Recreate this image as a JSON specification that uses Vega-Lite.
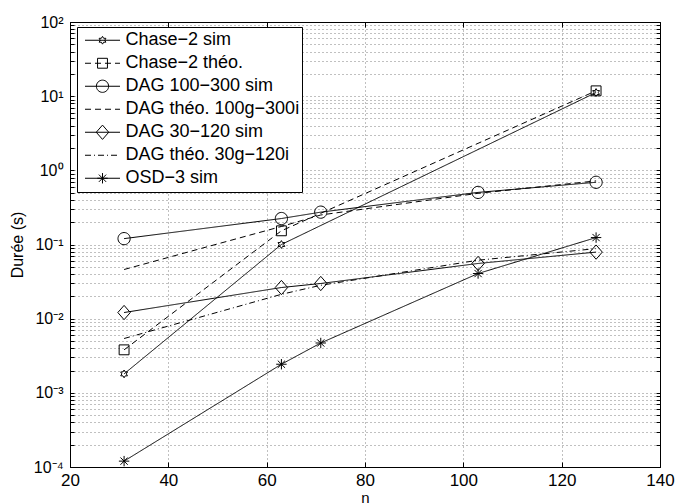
{
  "$schema": "https://vega.github.io/schema/vega-lite/v6.json",
  "width": 590,
  "height": 445,
  "autosize": {"type": "none"},
  "padding": {"left": 70, "top": 22, "right": 16, "bottom": 37},
  "background": "white",
  "config": {
    "view": {"stroke": "black", "strokeWidth": 1},
    "font": "Liberation Sans",
    "axis": {
      "domainColor": "black",
      "tickColor": "black",
      "labelColor": "black",
      "titleColor": "black",
      "labelFont": "Liberation Sans",
      "titleFont": "Liberation Sans",
      "titleFontWeight": "normal",
      "gridColor": "#808080",
      "gridDash": [1, 3],
      "gridWidth": 1,
      "labelOverlap": false,
      "labelFlush": false
    }
  },
  "data": {
    "values": [
      {"serie": "Chase−2 sim", "n": 31, "duree": 0.0018},
      {"serie": "Chase−2 sim", "n": 63, "duree": 0.1},
      {"serie": "Chase−2 sim", "n": 127, "duree": 11.2},
      {"serie": "Chase−2 théo.", "n": 31, "duree": 0.0038},
      {"serie": "Chase−2 théo.", "n": 63, "duree": 0.153},
      {"serie": "Chase−2 théo.", "n": 127, "duree": 11.8},
      {"serie": "DAG 100−300 sim", "n": 31, "duree": 0.12},
      {"serie": "DAG 100−300 sim", "n": 63, "duree": 0.224},
      {"serie": "DAG 100−300 sim", "n": 71, "duree": 0.273},
      {"serie": "DAG 100−300 sim", "n": 103, "duree": 0.504},
      {"serie": "DAG 100−300 sim", "n": 127, "duree": 0.69},
      {"serie": "DAG théo. 100g−300i", "n": 31, "duree": 0.046},
      {"serie": "DAG théo. 100g−300i", "n": 63, "duree": 0.175},
      {"serie": "DAG théo. 100g−300i", "n": 71, "duree": 0.25},
      {"serie": "DAG théo. 100g−300i", "n": 103, "duree": 0.49},
      {"serie": "DAG théo. 100g−300i", "n": 127, "duree": 0.72},
      {"serie": "DAG 30−120 sim", "n": 31, "duree": 0.0121},
      {"serie": "DAG 30−120 sim", "n": 63, "duree": 0.0263},
      {"serie": "DAG 30−120 sim", "n": 71, "duree": 0.0298},
      {"serie": "DAG 30−120 sim", "n": 103, "duree": 0.0555},
      {"serie": "DAG 30−120 sim", "n": 127, "duree": 0.079},
      {"serie": "DAG théo. 30g−120i", "n": 31, "duree": 0.0054},
      {"serie": "DAG théo. 30g−120i", "n": 63, "duree": 0.0213},
      {"serie": "DAG théo. 30g−120i", "n": 71, "duree": 0.0282},
      {"serie": "DAG théo. 30g−120i", "n": 103, "duree": 0.0614},
      {"serie": "DAG théo. 30g−120i", "n": 127, "duree": 0.088},
      {"serie": "OSD−3 sim", "n": 31, "duree": 0.00012},
      {"serie": "OSD−3 sim", "n": 63, "duree": 0.00243},
      {"serie": "OSD−3 sim", "n": 71, "duree": 0.0047},
      {"serie": "OSD−3 sim", "n": 103, "duree": 0.0406},
      {"serie": "OSD−3 sim", "n": 127, "duree": 0.124}
    ]
  },
  "resolve": {"axis": {"x": "independent", "y": "independent"}},
  "layer": [
    {
      "mark": {"type": "line", "color": "black", "strokeWidth": 1},
      "encoding": {
        "x": {
          "field": "n",
          "type": "quantitative",
          "scale": {"domain": [20, 140], "nice": false},
          "axis": {
            "values": [20, 40, 60, 80, 100, 120, 140],
            "grid": true,
            "title": "n",
            "titleFontSize": 15,
            "labelFontSize": 17,
            "tickSize": -5,
            "labelPadding": 10,
            "titleBaseline": "bottom",
            "titleY": 38
          }
        },
        "y": {
          "field": "duree",
          "type": "quantitative",
          "scale": {"type": "log", "domain": [0.0001, 100], "nice": false},
          "axis": {
            "values": [0.0001, 0.0002, 0.0003, 0.0004, 0.0005, 0.0006, 0.0007, 0.0008, 0.0009,
                       0.001, 0.002, 0.003, 0.004, 0.005, 0.006, 0.007, 0.008, 0.009,
                       0.01, 0.02, 0.03, 0.04, 0.05, 0.06, 0.07, 0.08, 0.09,
                       0.1, 0.2, 0.3, 0.4, 0.5, 0.6, 0.7, 0.8, 0.9,
                       1, 2, 3, 4, 5, 6, 7, 8, 9,
                       10, 20, 30, 40, 50, 60, 70, 80, 90, 100],
            "labelExpr": "datum.value == 100 ? '10²' : datum.value == 10 ? '10¹' : datum.value == 1 ? '10⁰' : datum.value == 0.1 ? '10⁻¹' : datum.value == 0.01 ? '10⁻²' : datum.value == 0.001 ? '10⁻³' : datum.value == 0.0001 ? '10⁻⁴' : ''",
            "grid": true,
            "title": "Durée (s)",
            "titleFontSize": 16,
            "labelFontSize": 16,
            "tickSize": -4,
            "labelPadding": 11,
            "titleX": -53,
            "titleBaseline": "middle"
          }
        },
        "strokeDash": {
          "field": "serie",
          "type": "nominal",
          "scale": {
            "domain": ["Chase−2 sim", "Chase−2 théo.", "DAG 100−300 sim", "DAG théo. 100g−300i", "DAG 30−120 sim", "DAG théo. 30g−120i", "OSD−3 sim"],
            "range": [[1, 0], [6, 4], [1, 0], [6, 4], [1, 0], [6, 3, 1, 3], [1, 0]]
          },
          "legend": {
            "title": null,
            "orient": "none",
            "legendX": 7,
            "legendY": 5,
            "direction": "vertical",
            "symbolType": "stroke",
            "symbolSize": 1225,
            "symbolStrokeColor": "black",
            "symbolStrokeWidth": 1,
            "labelFont": "Liberation Sans",
            "labelFontSize": 18,
            "labelColor": "black",
            "labelLimit": 400,
            "clipHeight": 22.5,
            "rowPadding": 0,
            "padding": 2,
            "symbolOffset": 5.5,
            "labelOffset": 5,
            "fillColor": "white",
            "strokeColor": "black"
          }
        }
      }
    },
    {
      "mark": {"type": "point", "filled": false, "color": "black", "strokeWidth": 1, "size": 676, "opacity": 1},
      "encoding": {
        "x": {
          "field": "n",
          "type": "quantitative",
          "axis": {
            "orient": "top",
            "values": [20, 40, 60, 80, 100, 120, 140],
            "grid": false,
            "labels": false,
            "title": null,
            "tickSize": -5
          }
        },
        "y": {
          "field": "duree",
          "type": "quantitative",
          "axis": {
            "orient": "right",
            "values": [0.0001, 0.0002, 0.0003, 0.0004, 0.0005, 0.0006, 0.0007, 0.0008, 0.0009,
                       0.001, 0.002, 0.003, 0.004, 0.005, 0.006, 0.007, 0.008, 0.009,
                       0.01, 0.02, 0.03, 0.04, 0.05, 0.06, 0.07, 0.08, 0.09,
                       0.1, 0.2, 0.3, 0.4, 0.5, 0.6, 0.7, 0.8, 0.9,
                       1, 2, 3, 4, 5, 6, 7, 8, 9,
                       10, 20, 30, 40, 50, 60, 70, 80, 90, 100],
            "grid": false,
            "labels": false,
            "title": null,
            "tickSize": -4
          }
        },
        "shape": {
          "field": "serie",
          "type": "nominal",
          "scale": {
            "domain": ["Chase−2 sim", "Chase−2 théo.", "DAG 100−300 sim", "DAG théo. 100g−300i", "DAG 30−120 sim", "DAG théo. 30g−120i", "OSD−3 sim"],
            "range": [
              "M0,-0.3L0.087,-0.15L0.26,-0.15L0.173,0L0.26,0.15L0.087,0.15L0,0.3L-0.087,0.15L-0.26,0.15L-0.173,0L-0.26,-0.15L-0.087,-0.15Z",
              "M-0.38,-0.38H0.38V0.38H-0.38Z",
              "M0.47,0A0.47,0.47 0 1,1 -0.47,0A0.47,0.47 0 1,1 0.47,0Z",
              "M0,0",
              "M0,-0.55L0.48,0L0,0.55L-0.48,0Z",
              "M0,0",
              "M-0.4,0H0.4M0,-0.4V0.4M-0.28,-0.28L0.28,0.28M-0.28,0.28L0.28,-0.28"
            ]
          },
          "legend": {
            "title": null,
            "orient": "top-left",
            "offset": 5,
            "direction": "vertical",
            "symbolSize": 676,
            "symbolStrokeColor": "black",
            "symbolFillColor": "transparent",
            "symbolStrokeWidth": 1,
            "labelExpr": "''",
            "labelFontSize": 18,
            "clipHeight": 22.5,
            "rowPadding": 0,
            "padding": 2,
            "symbolOffset": 12
          }
        }
      }
    }
  ]
}
